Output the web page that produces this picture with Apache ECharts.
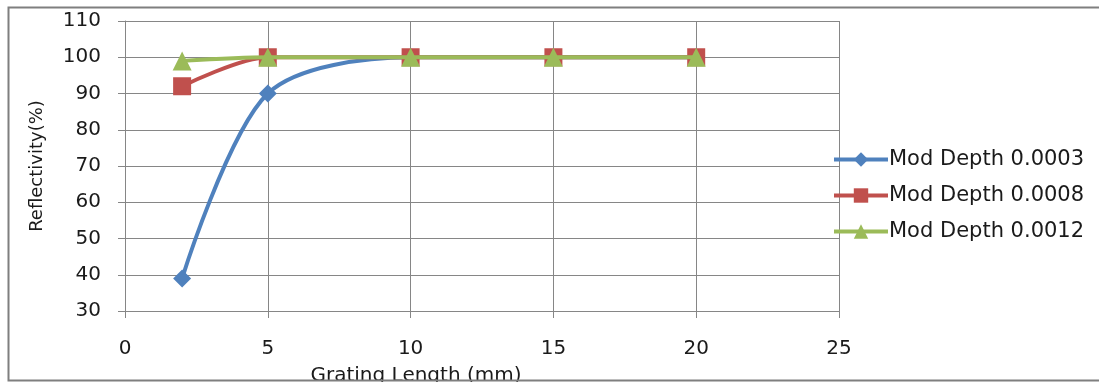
<!DOCTYPE html>
<html><head><meta charset="utf-8">
<script src="https://cdn.jsdelivr.net/npm/echarts@6/dist/echarts.min.js"></script>
<style>html,body{margin:0;padding:0;background:#fff}#c{width:1099px;height:383px}</style>
</head><body><div id="c"></div>
<script>
const lengths = [2, 5, 10, 15, 20];
const depth0003 = [39, 90, 100, 100, 100];
const depth0008 = [92, 100, 100, 100, 100];
const depth0012 = [99, 100, 100, 100, 100];
const seriesNames = ['Mod Depth 0.0003', 'Mod Depth 0.0008', 'Mod Depth 0.0012'];
const colors = ['#4F81BD', '#C0504D', '#9BBB59'];
const symbols = ['diamond', 'rect', 'triangle'];
const symbolSizes = [18, 18, 19];
const values = [depth0003, depth0008, depth0012];

const font = 'DejaVu Sans';
const chart = echarts.init(document.getElementById('c'), null, {renderer: 'canvas'});
chart.setOption({
  animation: false,
  backgroundColor: '#fff',
  textStyle: {fontFamily: font, color: '#1a1a1a'},
  grid: {left: 125, top: 21, width: 714, height: 290, containLabel: false, outerBoundsMode: 'none'},
  legend: {
    orient: 'vertical', left: 827, top: 144, itemWidth: 54, itemHeight: 18, itemGap: 15,
    textStyle: {fontFamily: font, fontSize: 21, color: '#1a1a1a', padding: [0, 0, 0, -4]},
    data: seriesNames.map((n, i) => ({name: n, itemStyle: {color: colors[i]}, lineStyle: {color: colors[i], width: 4}}))
  },
  xAxis: {
    type: 'value', min: 0, max: 25, interval: 5,
    name: 'Grating Length (mm)', nameLocation: 'middle', nameGap: 55,
    nameTextStyle: {fontFamily: font, fontSize: 20, color: '#1a1a1a', padding: [0, 132, 0, 0]},
    axisLine: {show: true, lineStyle: {color: '#868686', width: 1}},
    axisTick: {show: true, length: 7, lineStyle: {color: '#868686'}},
    axisLabel: {fontFamily: font, fontSize: 20, color: '#1a1a1a', margin: 28},
    splitLine: {show: true, lineStyle: {color: '#868686', width: 1}}
  },
  yAxis: {
    type: 'value', min: 30, max: 110, interval: 10,
    name: 'Reflectivity(%)', nameLocation: 'middle', nameGap: 79, nameRotate: 90,
    nameTextStyle: {fontFamily: font, fontSize: 18, color: '#1a1a1a'},
    axisLine: {show: true, lineStyle: {color: '#868686', width: 1}},
    axisTick: {show: true, length: 7, lineStyle: {color: '#868686'}},
    axisLabel: {fontFamily: font, fontSize: 20, color: '#1a1a1a', margin: 24},
    splitLine: {show: true, lineStyle: {color: '#868686', width: 1}}
  },
  graphic: [
    {type: 'rect', z: 100, shape: {x: 8.5, y: 7.5, width: 1200, height: 373}, style: {fill: 'none', stroke: '#7f7f7f', lineWidth: 2}},
    {type: 'rect', z: 99, shape: {x: 0, y: 382, width: 1099, height: 10}, style: {fill: '#fff'}}
  ],
  series: values.map((v, i) => ({
    name: seriesNames[i], type: 'line', smooth: 0.3,
    data: lengths.map((x, j) => [x, v[j]]),
    symbol: symbols[i], symbolSize: symbolSizes[i],
    z: 2 + i,
    lineStyle: {color: colors[i], width: 4},
    itemStyle: {color: colors[i]}
  }))
});
</script></body></html>
